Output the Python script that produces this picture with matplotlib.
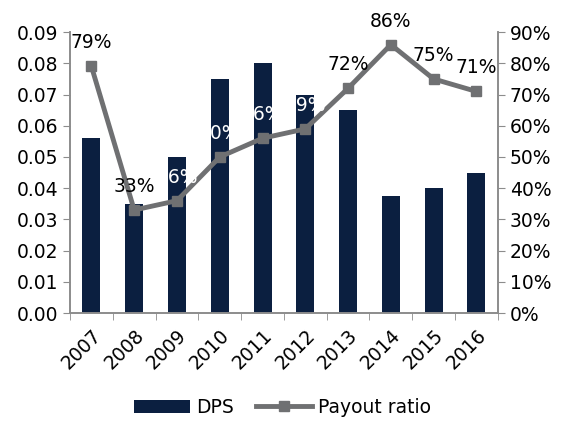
import matplotlib.pyplot as plt
from matplotlib.ticker import FuncFormatter

years = ['2007', '2008', '2009', '2010', '2011', '2012', '2013', '2014', '2015', '2016']
dps = [0.056, 0.035, 0.050, 0.075, 0.080, 0.070, 0.065, 0.0375, 0.040, 0.045]
payout = [79, 33, 36, 50, 56, 59, 72, 86, 75, 71]
# labels drawn in white (they sit over the bars in the original)
white_labels = ['2009', '2010', '2011', '2012']

navy = '#0b1f40'
grey = '#6f7072'
axis_grey = '#8c8c8c'

plt.rcParams['font.family'] = 'DejaVu Sans'
plt.rcParams['font.size'] = 13.5

fig = plt.figure(figsize=(5.65, 4.23), dpi=100)
ax = fig.add_axes([0.124, 0.26, 0.757, 0.664])
ax2 = ax.twinx()

x = range(len(years))
ax.bar(x, dps, width=0.42, color=navy, label='DPS', zorder=2)
ax.set_ylim(0, 0.09)
ax.set_yticks([i / 100 for i in range(10)])
ax.yaxis.set_major_formatter(FuncFormatter(lambda v, p: f'{v:.2f}'))
ax.set_xlim(-0.5, len(years) - 0.5)
ax.set_xticks(list(x))
ax.set_xticklabels(years, rotation=45, ha='right', rotation_mode='anchor')
ax.set_xticks([i - 0.5 for i in range(len(years) + 1)], minor=True)
ax.tick_params(axis='x', which='major', length=0, pad=9, labelsize=13.5)
ax.tick_params(axis='x', which='minor', length=5, color=axis_grey)

ax2.plot(x, payout, color=grey, linewidth=3.5, marker='s', markersize=7,
         label='Payout ratio', zorder=3)
ax2.set_ylim(0, 90)
ax2.set_yticks(range(0, 91, 10))
ax2.yaxis.set_major_formatter(FuncFormatter(lambda v, p: f'{v:.0f}%'))

for i, (yr, v) in enumerate(zip(years, payout)):
    c = 'white' if yr in white_labels else 'black'
    ax2.text(i, v + 4.5, f'{v}%', ha='center', va='bottom', color=c, fontsize=13.5, zorder=4)

for a in (ax, ax2):
    a.spines['top'].set_visible(False)
    for s in ('left', 'right', 'bottom'):
        a.spines[s].set_color(axis_grey)
        a.spines[s].set_linewidth(1.2)
    a.tick_params(axis='y', length=5, color=axis_grey, labelsize=13.5)

h1, l1 = ax.get_legend_handles_labels()
h2, l2 = ax2.get_legend_handles_labels()
fig.legend(h1 + h2, l1 + l2, loc='lower center', ncol=2, frameon=False,
           bbox_to_anchor=(0.5, -0.025), fontsize=13.5, handlelength=3,
           columnspacing=1.2, handletextpad=0.3)

fig.savefig('out.png', dpi=100)
